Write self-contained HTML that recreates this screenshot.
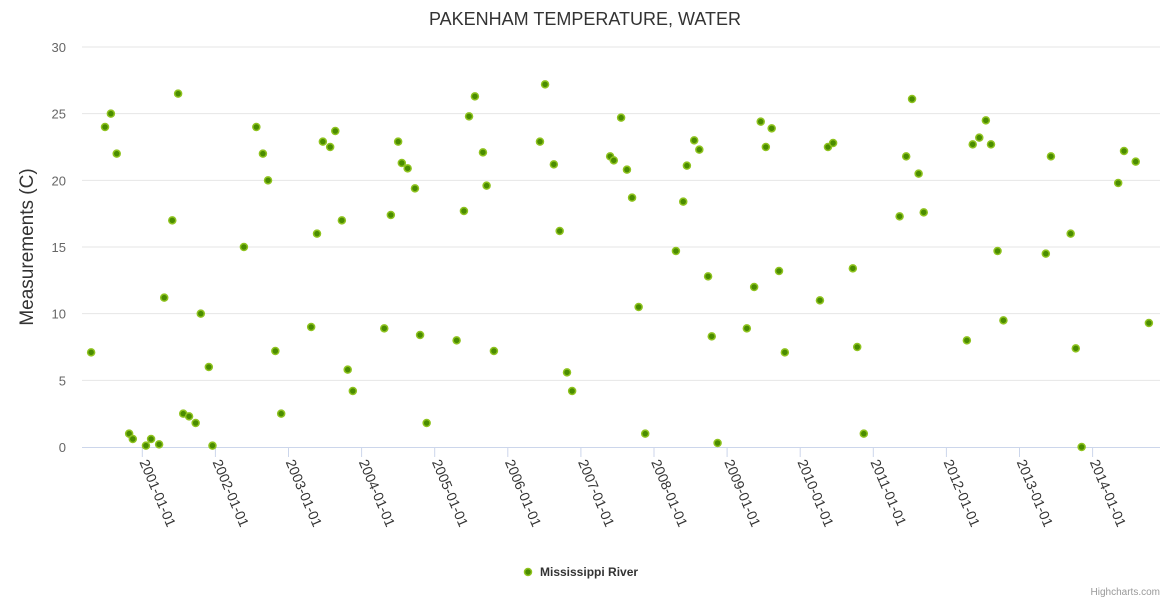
<!DOCTYPE html>
<html><head><meta charset="utf-8"><style>
html,body{margin:0;padding:0;background:#fff;}
svg{display:block;font-family:"Liberation Sans",sans-serif;}
</style></head><body>
<svg id="chart" width="1170" height="600">
<text x="585" y="25" text-anchor="middle" font-size="18" fill="#333">PAKENHAM TEMPERATURE, WATER</text>
<g id="grid"></g><g id="xaxis"></g><g id="yaxis"></g><g id="points"></g>
<text transform="translate(33,247) rotate(-90)" text-anchor="middle" font-size="19" fill="#333">Measurements (C)</text>
<g>
<circle cx="528" cy="572" r="3.5" fill="#4a8c00" stroke="#8fc31f" stroke-width="1.5"/>
<text x="540" y="576" font-size="12" font-weight="bold" fill="#333">Mississippi River</text></g>
<text x="1160" y="595" text-anchor="end" font-size="10" fill="#999">Highcharts.com</text>
</svg>
<script>
const years=[2000.30,2000.49,2000.57,2000.65,2000.82,2000.87,2001.05,2001.12,2001.23,2001.30,2001.41,2001.49,2001.56,2001.64,2001.73,2001.80,2001.91,2001.96,2002.39,2002.56,2002.65,2002.72,2002.82,2002.90,2003.31,2003.39,2003.47,2003.57,2003.64,2003.73,2003.81,2003.88,2004.31,2004.40,2004.50,2004.55,2004.63,2004.73,2004.80,2004.89,2005.30,2005.40,2005.47,2005.55,2005.66,2005.71,2005.81,2006.44,2006.51,2006.63,2006.71,2006.81,2006.88,2007.40,2007.45,2007.55,2007.63,2007.70,2007.79,2007.88,2008.30,2008.40,2008.45,2008.55,2008.62,2008.74,2008.79,2008.87,2009.27,2009.37,2009.46,2009.53,2009.61,2009.71,2009.79,2010.27,2010.38,2010.45,2010.72,2010.78,2010.87,2011.36,2011.45,2011.53,2011.62,2011.69,2012.28,2012.36,2012.45,2012.54,2012.61,2012.70,2012.78,2013.36,2013.43,2013.70,2013.77,2013.85,2014.35,2014.43,2014.59,2014.77];
const temps=[7.1,24,25,22,1,0.6,0.1,0.6,0.2,11.2,17,26.5,2.5,2.3,1.8,10,6,0.1,15,24,22,20,7.2,2.5,9,16,22.9,22.5,23.7,17,5.8,4.2,8.9,17.4,22.9,21.3,20.9,19.4,8.4,1.8,8,17.7,24.8,26.3,22.1,19.6,7.2,22.9,27.2,21.2,16.2,5.6,4.2,21.8,21.5,24.7,20.8,18.7,10.5,1,14.7,18.4,21.1,23,22.3,12.8,8.3,0.3,8.9,12,24.4,22.5,23.9,13.2,7.1,11,22.5,22.8,13.4,7.5,1,17.3,21.8,26.1,20.5,17.6,8,22.7,23.2,24.5,22.7,14.7,9.5,14.5,21.8,16,7.4,0,19.8,22.2,21.4,9.3];
const yTicks=[0,5,10,15,20,25,30];
const xTicks=[2001,2002,2003,2004,2005,2006,2007,2008,2009,2010,2011,2012,2013,2014];
const NS="http://www.w3.org/2000/svg";
const X=v=>142.3+(v-2001)*73.1;
const Y=v=>447-v*(400/30);
function mk(tag,attrs,parent){const e=document.createElementNS(NS,tag);for(const k in attrs)e.setAttribute(k,attrs[k]);parent.appendChild(e);return e;}
const grid=document.getElementById('grid'),ya=document.getElementById('yaxis'),xa=document.getElementById('xaxis'),pts=document.getElementById('points');
yTicks.forEach(t=>{
 if(t>0){const l=mk('line',{x1:82,x2:1160,y1:Y(t),y2:Y(t),stroke:'#e6e6e6'},grid);
 
 }
 const tx=mk('text',{x:66,y:Y(t)+5,'text-anchor':'end','font-size':13,fill:'#666'},ya);
 tx.textContent=t;
 
 
});
const ax=mk('line',{x1:82,x2:1160,y1:447.5,y2:447.5,stroke:'#ccd6eb'},xa);


xTicks.forEach(t=>{
 const x=X(t);
 const tk=mk('line',{x1:x,x2:x,y1:447,y2:457,stroke:'#ccd6eb'},xa);
 
 
 const tx=mk('text',{transform:`translate(${x-3},${462}) rotate(67)`,'font-size':14,fill:'#333'},xa);
 tx.textContent=t+'-01-01';
 
 
});
years.forEach((yr,i)=>{
 const c=mk('circle',{cx:X(yr),cy:Y(temps[i]),r:3.5,fill:'#4a8c00',stroke:'#8fc31f','stroke-width':1.5},pts);
 
 
});
</script>
</body></html>
